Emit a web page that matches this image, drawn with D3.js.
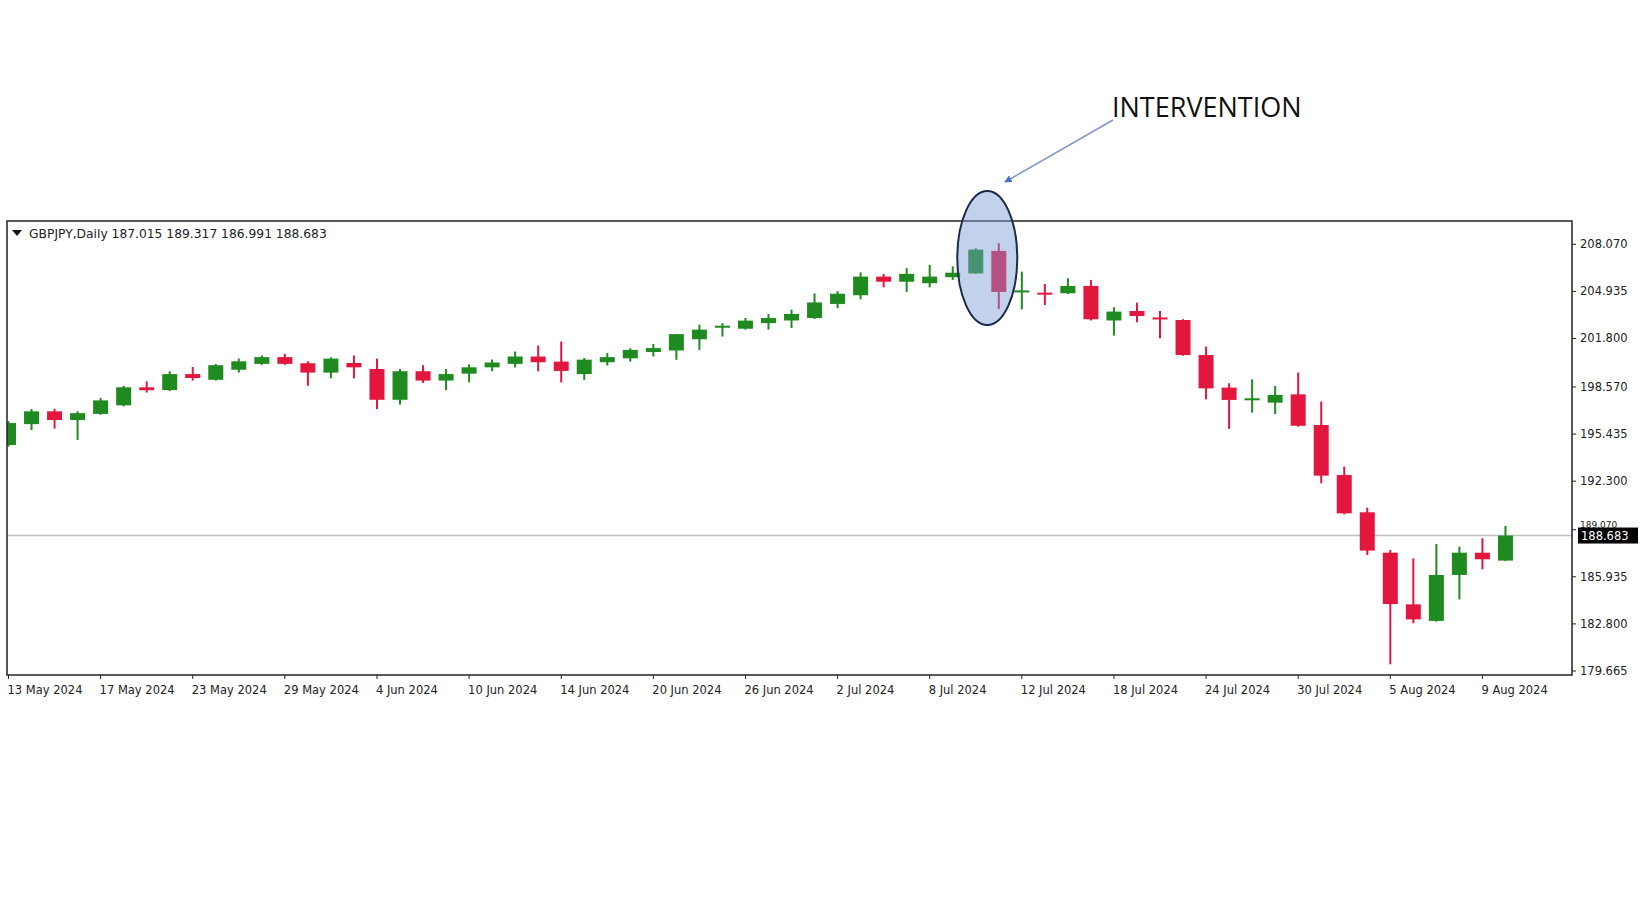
<!DOCTYPE html>
<html><head><meta charset="utf-8">
<script src="https://cdn.jsdelivr.net/npm/d3@7"></script>
<style>body{margin:0;background:#fff}svg{display:block}</style></head>
<body><svg id="c" width="1643" height="924"></svg>
<script>
const dates=["13 May 2024","14 May","15 May","16 May","17 May 2024","20 May","21 May","22 May","23 May 2024","24 May","27 May","28 May","29 May 2024","30 May","31 May","3 Jun","4 Jun 2024","5 Jun","6 Jun","7 Jun","10 Jun 2024","11 Jun","12 Jun","13 Jun","14 Jun 2024","17 Jun","18 Jun","19 Jun","20 Jun 2024","21 Jun","24 Jun","25 Jun","26 Jun 2024","27 Jun","28 Jun","1 Jul","2 Jul 2024","3 Jul","4 Jul","5 Jul","8 Jul 2024","9 Jul","10 Jul","11 Jul","12 Jul 2024","15 Jul","16 Jul","17 Jul","18 Jul 2024","19 Jul","22 Jul","23 Jul","24 Jul 2024","25 Jul","26 Jul","29 Jul","30 Jul 2024","31 Jul","1 Aug","2 Aug","5 Aug 2024","6 Aug","7 Aug","8 Aug","9 Aug 2024","12 Aug"];
const tickIdx=[0,4,8,12,16,20,24,28,32,36,40,44,48,52,56,60,64];
const open=[194.71,196.1,196.95,196.37,196.78,197.35,198.55,198.37,199.43,199.05,199.72,200.11,200.56,200.15,199.53,200.17,199.77,197.72,199.62,199.0,199.46,199.88,200.11,200.6,200.26,199.43,200.22,200.48,200.9,201.0,201.75,202.55,202.45,202.82,203.0,203.16,204.1,204.68,205.92,205.58,205.48,205.88,206.13,207.63,204.9,204.85,204.81,205.3,203.0,203.63,203.2,203.03,200.7,198.53,197.78,197.53,198.08,196.04,192.71,190.23,187.54,184.1,183.0,186.06,187.54,187.015];
const high=[196.3,197.1,197.12,196.95,197.85,198.65,198.95,199.62,199.9,200.1,200.46,200.67,200.78,200.28,200.55,200.67,200.46,199.77,200.02,199.77,200.08,200.4,200.93,201.33,201.6,200.5,200.83,201.15,201.43,202.09,202.72,202.82,203.16,203.43,203.72,204.8,204.95,206.2,206.1,206.48,206.7,206.6,207.8,208.14,206.25,205.43,205.81,205.7,203.88,204.19,203.63,203.08,201.26,198.82,199.08,198.64,199.53,197.6,193.27,190.54,187.72,187.16,188.12,187.94,188.5,189.317];
const low=[194.6,195.7,195.8,195.05,196.72,197.28,198.2,198.3,199.0,199.0,199.53,200.05,200.05,198.65,199.15,199.15,197.1,197.4,198.84,198.36,198.88,199.62,199.87,199.62,198.88,199.05,200.0,200.26,200.6,200.38,201.04,201.93,202.39,202.39,202.5,203.1,203.82,204.4,205.2,204.9,205.2,205.7,206.1,203.76,203.74,204.03,204.76,203.0,201.99,202.88,201.81,200.65,197.75,195.78,196.86,196.77,195.93,192.16,190.1,187.39,180.11,182.84,182.95,184.43,186.43,186.991];
const close=[196.17,196.95,196.37,196.83,197.68,198.55,198.36,199.43,199.17,200.02,200.28,200.56,200.11,199.53,200.46,199.88,197.72,199.62,199.0,199.43,199.88,200.2,200.6,200.22,199.64,200.39,200.56,201.04,201.16,202.09,202.39,202.65,202.99,203.16,203.43,204.2,204.78,205.92,205.58,206.1,205.92,206.18,207.72,204.9,205.0,204.75,205.3,203.08,203.59,203.3,203.1,200.7,198.48,197.71,197.82,198.04,195.99,192.67,190.16,187.68,184.12,183.1,186.06,187.54,187.1,188.683];
const yTicks=[208.070,204.935,201.800,198.570,195.435,192.300,189.070,185.935,182.800,179.665];
const lastPrice=188.683;

const svg=d3.select("#c");
const L=7,R=1572,T=221,B=675;
const x=d3.scaleLinear().domain([0,1]).range([8.5,31.53]);
const y=d3.scaleLinear().domain([179.665,208.07]).range([671,244.3]);
const up="#1f8a1f",dn="#e3173e";
const g=svg.append("g");
const defs=svg.append("defs");
defs.append("clipPath").attr("id","pc").append("rect").attr("x",L).attr("y",T).attr("width",R-L).attr("height",B-T);
g.append("line").attr("x1",L).attr("x2",R).attr("y1",y(lastPrice)).attr("y2",y(lastPrice)).attr("stroke","#c0c0c0").attr("stroke-width",1.5);
const cg=g.append("g").attr("clip-path","url(#pc)");
const idx=d3.range(open.length);
cg.selectAll("line.w").data(idx).join("line").attr("class","w")
 .attr("x1",i=>x(i)).attr("x2",i=>x(i)).attr("y1",i=>y(high[i])).attr("y2",i=>y(low[i]))
 .attr("stroke",i=>close[i]>=open[i]?up:dn).attr("stroke-width",2);
cg.selectAll("rect.b").data(idx).join("rect").attr("class","b")
 .attr("x",i=>x(i)-7.5).attr("width",15)
 .attr("y",i=>y(Math.max(open[i],close[i]))).attr("height",i=>Math.max(2,Math.abs(y(open[i])-y(close[i]))))
 .attr("fill",i=>close[i]>=open[i]?up:dn);
g.append("rect").attr("x",L).attr("y",T).attr("width",R-L).attr("height",B-T).attr("fill","none").attr("stroke","#222").attr("stroke-width",1.5);
const xa=g.append("g").attr("transform",`translate(0,${B})`);
tickIdx.forEach(i=>{
 xa.append("line").attr("x1",x(i)).attr("x2",x(i)).attr("y1",0).attr("y2",4).attr("stroke","#222");
 xa.append("text").attr("x",x(i)-1).attr("y",19).text(dates[i]).attr("font-family","DejaVu Sans").attr("font-size",11.5).attr("fill","#222");
});
const ya=g.append("g").attr("transform",`translate(${R},0)`);
yTicks.forEach(v=>{
 ya.append("line").attr("x1",0).attr("x2",4).attr("y1",y(v)).attr("y2",y(v)).attr("stroke","#222");
 const near=Math.abs(y(v)-y(lastPrice))<12;
 ya.append("text").attr("x",8).attr("y",near?y(v)-2:y(v)+4).text(v.toFixed(3)).attr("font-family","DejaVu Sans").attr("font-size",near?9:11.5).attr("fill","#222");
});
ya.append("rect").attr("x",6).attr("y",y(lastPrice)-8).attr("width",60).attr("height",16).attr("fill","#000");
ya.append("text").attr("x",9).attr("y",y(lastPrice)+4).text(lastPrice.toFixed(3)).attr("font-family","DejaVu Sans").attr("font-size",11.5).attr("fill","#fff");
g.append("path").attr("d","M12,230 L22,230 L17,236 Z").attr("fill","#111");
g.append("text").attr("x",29).attr("y",238).attr("font-family","DejaVu Sans").attr("font-size",12.3).attr("fill","#222")
 .text(`GBPJPY,Daily  ${open[65].toFixed(3)} ${high[65].toFixed(3)} ${low[65].toFixed(3)} ${close[65].toFixed(3)}`);
svg.append("ellipse").attr("cx",x(42.5)).attr("cy",258).attr("rx",30).attr("ry",67)
 .attr("fill","rgb(120,155,215)").attr("fill-opacity",0.45).attr("stroke","#1c2a4a").attr("stroke-width",2);
defs.append("marker").attr("id","ah").attr("viewBox","0 0 10 10").attr("refX",9).attr("refY",5)
 .attr("markerWidth",5).attr("markerHeight",5).attr("orient","auto").append("path").attr("d","M0,0L10,5L0,10Z").attr("fill","#4472c4");
svg.append("line").attr("x1",1113).attr("y1",120).attr("x2",1005).attr("y2",182).attr("stroke","#7f96c4").attr("stroke-width",1.5).attr("marker-end","url(#ah)");
svg.append("text").attr("x",1112).attr("y",117).text("INTERVENTION").attr("font-family","Open Sans").attr("font-size",27).attr("fill","#111");
</script></body></html>
